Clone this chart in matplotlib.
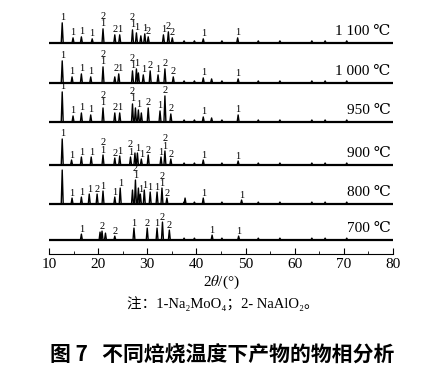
import matplotlib
matplotlib.use("Agg")
import matplotlib.pyplot as plt
from matplotlib.ticker import MultipleLocator

plt.rcParams['mathtext.fontset'] = 'stix'
serif = ['Liberation Serif', 'DejaVu Serif', 'Noto Sans CJK SC']

# temperature labels and baseline of every trace (arbitrary intensity units)
temps = ['1 100 ℃', '1 000 ℃', '950 ℃', '900 ℃', '800 ℃', '700 ℃']
bases = [211, 171, 132, 89, 50, 14]

# peak positions (2theta), heights and phase labels for every trace
pos_1100 = [12.7, 14.9, 16.6, 18.8, 21.0, 23.4, 24.4, 27.0, 27.8, 28.7, 29.5, 30.2, 33.3, 34.3, 35.1, 41.4, 48.4]
h_1100 = [20, 5, 6, 4, 14, 8, 8, 13, 10, 7, 9, 6, 8, 11, 5, 4, 5]
lab_1100 = ['1', '1', '1', '1', '2\n1', '2', '1', '2\n1', '1', '', '1', '2', '1', '2', '2', '1', '1']

pos_1000 = [12.7, 14.7, 16.6, 18.5, 21.0, 23.4, 24.2, 27.0, 27.8, 28.2, 29.2, 30.6, 32.2, 33.6, 35.3, 41.4, 43.1, 48.5]
h_1000 = [22, 6, 9, 6, 16, 6, 9, 12, 14, 10, 8, 12, 8, 14, 6, 5, 4, 4]
lab_1000 = ['1', '1', '1', '1', '2\n1', '', '21', '2\n1', '1', '', '1', '2', '1', '2', '2', '1', '', '1']

pos_950 = [12.7, 14.9, 16.6, 18.5, 21.0, 23.4, 24.4, 27.0, 27.6, 28.2, 28.8, 30.2, 32.6, 33.6, 34.8, 41.4, 43.1, 48.5]
h_950 = [30, 6, 9, 7, 14, 9, 9, 18, 14, 12, 9, 14, 11, 26, 8, 5, 4, 7]
lab_950 = ['1', '1', '1', '1', '2\n1', '2', '1', '2\n1', '', '1', '', '2', '1', '2', '2', '1', '', '1']

pos_900 = [12.7, 14.6, 16.6, 18.6, 21.0, 23.4, 24.4, 26.6, 27.5, 28.0, 28.8, 30.2, 32.8, 33.6, 34.8, 41.4, 48.5]
h_900 = [26, 5, 8, 8, 10, 7, 9, 8, 12, 12, 6, 10, 8, 14, 6, 5, 4]
lab_900 = ['1', '1', '1', '1', '2\n1', '2', '1', '2\n1', '', '1', '1', '2', '1', '2\n1', '2', '1', '1']

pos_800 = [12.7, 14.7, 16.6, 18.2, 19.8, 21.0, 23.4, 24.5, 27.0, 27.6, 28.2, 28.6, 29.4, 30.6, 32.0, 33.0, 34.0, 37.7, 41.4, 49.2]
h_800 = [34, 6, 7, 10, 10, 13, 7, 16, 14, 24, 16, 10, 14, 12, 12, 16, 6, 6, 6, 4]
lab_800 = ['', '1', '1', '1', '2', '1', '1', '1', '', '2\n1', '', '1', '1', '1', '1', '2\n1', '2', '', '1', '1']

pos_700 = [16.6, 20.4, 20.8, 21.5, 23.4, 27.3, 30.0, 32.0, 33.1, 34.5, 43.2, 48.6]
h_700 = [6, 8, 9, 7, 4, 12, 12, 12, 18, 10, 5, 4]
lab_700 = ['1', '', '2', '', '2', '1', '2', '1', '2', '2', '1', '1']

# weak unlabelled reflections seen on all traces
minor_pos = [37.5, 39.6, 45.2, 52.6, 57.0, 63.5, 66.2, 70.6]
minor_h = [2, 2, 2, 2, 2, 2, 2, 2]

traces = [(pos_1100, h_1100, lab_1100), (pos_1000, h_1000, lab_1000),
          (pos_950, h_950, lab_950), (pos_900, h_900, lab_900),
          (pos_800, h_800, lab_800), (pos_700, h_700, lab_700)]

fig = plt.figure(figsize=(4.45, 3.71), dpi=100)
ax = fig.add_axes([0.110, 0.315, 0.773, 0.672])

w = 0.2
for (pos, h, lab), base, temp in zip(traces, bases, temps):
    pk = sorted(list(zip(pos, h)) + list(zip(minor_pos, minor_h)))
    xs, ys = [10], [base]
    for p, hh in pk:
        xs += [p - w, p, p + w]
        ys += [base, base + hh, base]
    xs.append(80)
    ys.append(base)
    ax.plot(xs, ys, color='black', lw=1.0)
    ax.plot([10, 80], [base, base], color='black', lw=1.6)
    for p, hh, t in zip(pos, h, lab):
        if t:
            ax.text(p, base + hh + 0.5, t, ha='center', va='bottom', fontsize=7.5,
                    family=serif, linespacing=0.72)
    ax.text(79.5, base + 5, temp, ha='right', va='bottom', fontsize=11, family=serif)

ax.set_xlim(10, 80)
ax.set_ylim(0, 249)
for s in ['top', 'left', 'right']:
    ax.spines[s].set_visible(False)
ax.set_yticks([])
ax.xaxis.set_major_locator(MultipleLocator(10))
ax.xaxis.set_minor_locator(MultipleLocator(5))
ax.tick_params(axis='x', which='major', direction='in', length=4, labelsize=11, pad=3)
ax.tick_params(axis='x', which='minor', direction='in', length=2)
for lbl in ax.get_xticklabels():
    lbl.set_family(serif)
ax.set_xlabel(r'2$\theta$/(°)', fontsize=11, family=serif, labelpad=2)

fig.text(0.5, 0.183, '注：1-Na₂MoO₄；2- NaAlO₂。', ha='center', va='center',
         fontsize=10.5, family=serif)
fig.text(0.5, 0.043, '图 7   不同焙烧温度下产物的物相分析', ha='center', va='center',
         fontsize=15, fontweight='bold', family=['Noto Sans CJK SC', 'DejaVu Sans'])

fig.savefig('out.png', dpi=100)
